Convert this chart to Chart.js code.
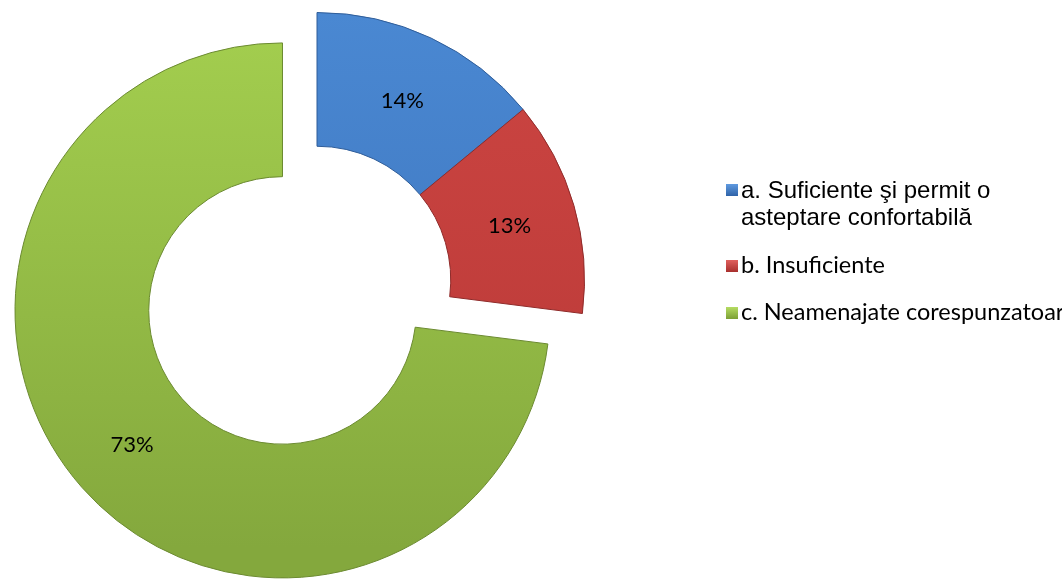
<!DOCTYPE html>
<html>
<head>
<meta charset="utf-8">
<script src="https://cdn.jsdelivr.net/npm/chart.js@4/dist/chart.umd.min.js"></script>
<style>
  html, body { margin: 0; padding: 0; background: #fff; }
  #wrap { position: relative; width: 1062px; height: 579px; overflow: hidden; }
  #chart { position: absolute; left: 0; top: 0; }
  .leg { position: absolute; left: 741px; white-space: nowrap; color: #000; }
  .mk { position: absolute; left: 726px; width: 12px; height: 12px; }
</style>
</head>
<body>
<div id="wrap">
  <canvas id="chart" width="1062" height="579"></canvas>
  <div class="mk" style="top:184px;background:linear-gradient(#5f9ae0,#2f63a8);"></div>
  <div class="leg" style="top:176px;font:24px 'Liberation Sans',Arial,sans-serif;line-height:27px;">a. Suficiente şi permit o<br>asteptare confortabilă</div>
  <div class="mk" style="top:260px;background:linear-gradient(#e0605d,#a82f2d);"></div>
  <div class="leg" style="top:250px;font:23.5px Lato,sans-serif;">b. Insuficiente</div>
  <div class="mk" style="top:307px;background:linear-gradient(#b5dc62,#7c9f35);"></div>
  <div class="leg" style="top:297px;font:23.5px Lato,sans-serif;">c. Neamenajate corespunzatoare</div>
</div>
<script>
// values (percent)
const labels = ['a. Suficiente şi permit o asteptare confortabilă', 'b. Insuficiente', 'c. Neamenajate corespunzatoare'];
const values = [14, 13, 73];
const explode = [0, 0, 46]; // only the big slice is pulled out
const topColors = ['#4a88d2', '#cc4542', '#a4cf4f'];
const bottomColors = ['#3a70b8', '#b83836', '#84a83d'];
const borderColors = ['#2f5d99', '#8f2b2a', '#6b8a30'];

function sliceFill(ctx) {
  const chart = ctx.chart;
  const area = chart.chartArea;
  if (!area) return topColors[ctx.dataIndex];
  const g = chart.ctx.createLinearGradient(0, area.top, 0, area.bottom);
  g.addColorStop(0, topColors[ctx.dataIndex]);
  g.addColorStop(1, bottomColors[ctx.dataIndex]);
  return g;
}

// move exploded slices out along their mid angle
const explodePlugin = {
  id: 'explode',
  afterDatasetsUpdate(chart) {
    const meta = chart.getDatasetMeta(0);
    meta.data.forEach((arc, i) => {
      const d = explode[i] || 0;
      if (!d) return;
      const mid = (arc.startAngle + arc.endAngle) / 2;
      arc.x += Math.cos(mid) * d;
      arc.y += Math.sin(mid) * d;
    });
  }
};

const pctLabels = {
  id: 'pctLabels',
  afterDatasetsDraw(chart) {
    const ctx = chart.ctx;
    const meta = chart.getDatasetMeta(0);
    const total = values.reduce((a, b) => a + b, 0);
    ctx.save();
    ctx.font = '22px Lato, sans-serif';
    ctx.fillStyle = '#000';
    ctx.textAlign = 'center';
    ctx.textBaseline = 'middle';
    meta.data.forEach((arc, i) => {
      const p = arc.tooltipPosition();
      ctx.fillText(Math.round(values[i] / total * 100) + '%', p.x, p.y + 2);
    });
    ctx.restore();
  }
};

new Chart(document.getElementById('chart'), {
  type: 'doughnut',
  data: {
    labels: labels,
    datasets: [{
      data: values,
      backgroundColor: sliceFill,
      borderColor: borderColors,
      borderWidth: 1,
      borderJoinStyle: 'miter'
    }]
  },
  options: {
    responsive: false,
    animation: false,
    cutout: '50%',
    layout: { padding: { left: 49, right: 477, top: 12, bottom: 31 } },
    plugins: {
      legend: { display: false },
      tooltip: { enabled: false }
    }
  },
  plugins: [explodePlugin, pctLabels]
});
</script>
</body>
</html>
